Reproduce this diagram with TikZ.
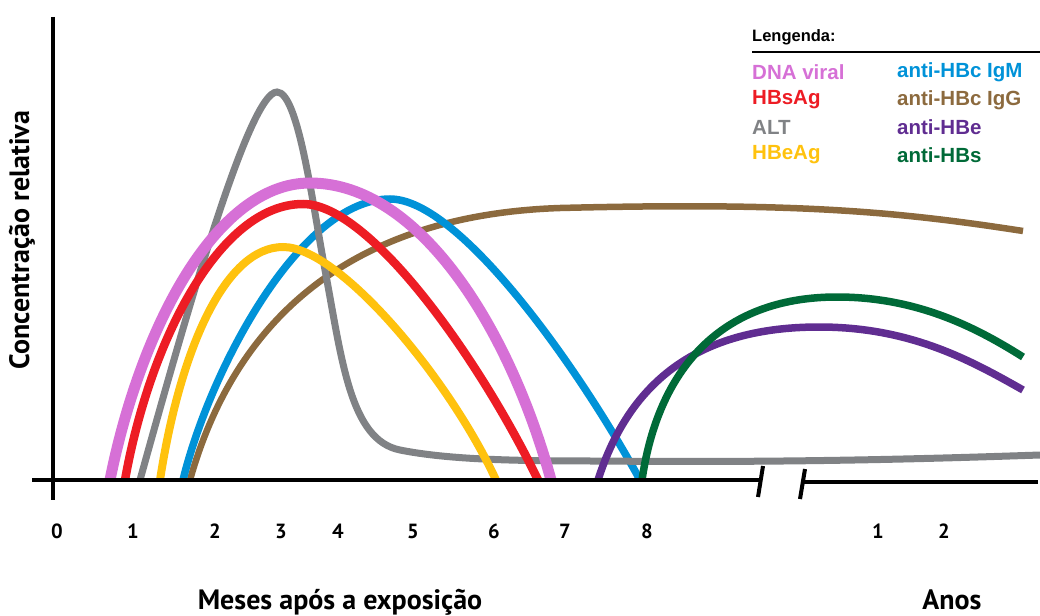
\documentclass[tikz,border=0pt]{standalone}
\usepackage{fontspec}
\setmainfont{Liberation Sans}
\newfontfamily\axfont{PT Sans}
\newfontfamily\legfont{Liberation Sans}
\definecolor{pinkc}{RGB}{214,112,214}
\definecolor{redc}{RGB}{237,28,36}
\definecolor{grayc}{RGB}{128,130,133}
\definecolor{yellowc}{RGB}{255,194,14}
\definecolor{bluec}{RGB}{0,146,216}
\definecolor{brownc}{RGB}{140,106,62}
\definecolor{purplec}{RGB}{96,45,145}
\definecolor{greenc}{RGB}{0,106,56}
\tikzset{
  axisline/.style={line width=4pt, black},
  num/.style={font=\axfont\bfseries\fontsize{20.5}{24}\selectfont, anchor=base, inner sep=0pt},
  axlabel/.style={font=\axfont\bfseries\fontsize{28}{32}\selectfont, anchor=base, inner sep=0pt},
  leg/.style={font=\legfont\bfseries\fontsize{20.5}{24}\selectfont, anchor=west, inner sep=0pt},
}
\begin{document}
\begin{tikzpicture}[x=1pt,y=-1pt]
\useasboundingbox (0,0) rectangle (1040,615);
% curves (bottom to top)
\draw[brownc, line width=6.5pt] (190,480) .. controls (235,320) and (350,215) .. (560,208) .. controls (800,202) and (900,212) .. (1023,231);
\draw[bluec, line width=7.5pt] (183,480) .. controls (210,370) and (300,199) .. (390,199) .. controls (460,199) and (580,370) .. (640,480);
\draw[grayc, line width=7pt] (140,480) .. controls (190,300) and (250,92) .. (277,92) .. controls (298,92) and (312,200) .. (325,270) .. controls (342,360) and (350,440) .. (400,450) .. controls (450,460) and (520,461) .. (600,461) .. controls (800,463) and (950,458) .. (1040,455);
\draw[purplec, line width=7.5pt] (598,480) .. controls (630,380) and (700,327) .. (819,327) .. controls (910,327) and (970,360) .. (1023,390);
\draw[greenc, line width=7.5pt] (642,480) .. controls (658,370) and (720,297) .. (837,297) .. controls (920,297) and (980,330) .. (1023,357);
\draw[yellowc, line width=8pt] (160,480) .. controls (180,350) and (225,247) .. (283,247) .. controls (340,247) and (450,380) .. (496,480);
\draw[redc, line width=8.5pt] (125,480) .. controls (150,340) and (220,204) .. (303,204) .. controls (370,204) and (480,360) .. (538,480);
\draw[pinkc, line width=11pt] (110,480) .. controls (140,330) and (215,183) .. (310,183) .. controls (420,183) and (510,330) .. (551,480);
% axes
\coordinate (yt) at (53,17);
\coordinate (yb) at (53,500);
\coordinate (xl) at (32,480);
\coordinate (xm) at (760,480);
\coordinate (xr) at (803,482);
\coordinate (xe) at (1038,482);
\draw[axisline] (yt) -- (yb);
\draw[axisline] (xl) -- (xm);
\draw[axisline] (xr) -- (xe);
\coordinate (b1t) at (763,466);
\coordinate (b1b) at (758,497);
\coordinate (b2t) at (805,469);
\coordinate (b2b) at (800,499);
\draw[axisline] (b1t) -- (b1b);
\draw[axisline] (b2t) -- (b2b);
% tick numbers
\node[num] (n0) at (57,538) {0};
\node[num] (n1) at (133,538) {1};
\node[num] (n2) at (215,538) {2};
\node[num] (n3) at (281,538) {3};
\node[num] (n4) at (338,538) {4};
\node[num] (n5) at (413,538) {5};
\node[num] (n6) at (494,538) {6};
\node[num] (n7) at (565,538) {7};
\node[num] (n8) at (647,538) {8};
\node[num] (a1) at (878,538) {1};
\node[num] (a2) at (944,538) {2};
% axis labels
\node[axlabel] (xlab) at (340,609) {Meses após a exposição};
\node[axlabel] (alab) at (952,609) {Anos};
\node[font=\axfont\bfseries\fontsize{28}{32}\selectfont, inner sep=0pt, rotate=90, anchor=center] (ylab) at (22,240) {Concentração relativa};
% legend
\node[font=\legfont\bfseries\fontsize{16.5}{20}\selectfont, anchor=west, inner sep=0pt] (lt) at (752,37) {Lengenda:};
\coordinate (ll) at (752,52);
\coordinate (lr) at (1040,52);
\draw[line width=2pt, black] (ll) -- (lr);
\node[leg, text=pinkc] (l1) at (752,72) {DNA viral};
\node[leg, text=redc] (l2) at (752,100) {HBsAg};
\node[leg, text=grayc] (l3) at (752,127) {ALT};
\node[leg, text=yellowc] (l4) at (752,155) {HBeAg};
\node[leg, text=bluec] (r1) at (897,72) {anti-HBc IgM};
\node[leg, text=brownc] (r2) at (897,100) {anti-HBc IgG};
\node[leg, text=purplec] (r3) at (897,127) {anti-HBe};
\node[leg, text=greenc] (r4) at (897,155) {anti-HBs};
\end{tikzpicture}
\end{document}
